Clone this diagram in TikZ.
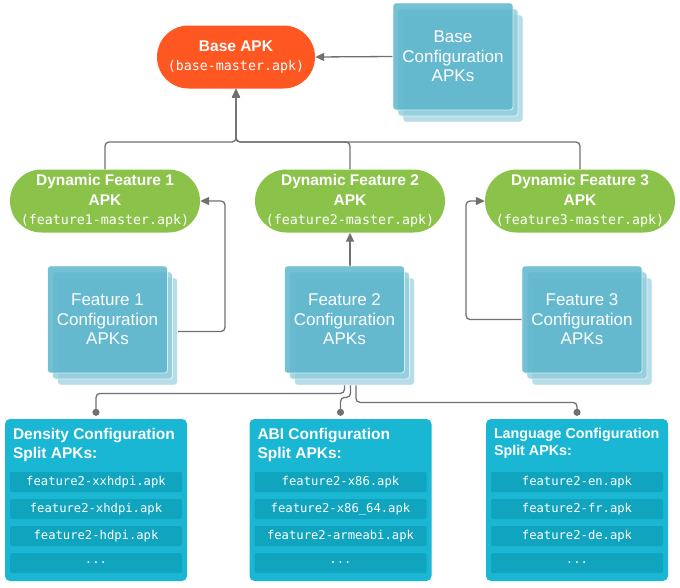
\documentclass[tikz,border=0pt]{standalone}
\usepackage{fontspec}
\setmainfont{Liberation Sans}
\setmonofont{DejaVu Sans Mono}
\usetikzlibrary{positioning,arrows.meta,calc}

\definecolor{baseorange}{HTML}{FF5722}
\definecolor{featgreen}{HTML}{8BC34A}
\definecolor{cardfront}{HTML}{5DB6CD}
\definecolor{cardmid}{HTML}{8ECCDB}
\definecolor{cardback}{HTML}{B7DDE7}
\definecolor{splitcyan}{HTML}{19B7D3}
\definecolor{rowcyan}{HTML}{10A4BE}
\definecolor{linegray}{HTML}{707070}

\pgfdeclarelayer{background}
\pgfsetlayers{background,main}

\begin{document}
\begin{tikzpicture}[x=1pt,y=-1pt,
  link/.style={draw=linegray,line width=1.3pt,rounded corners=4pt,-{Triangle[length=9pt,width=8pt]}},
  pin/.style={draw=linegray,line width=1.3pt,rounded corners=4pt,-{Circle[length=7pt]}},
  apk/.style={fill=#1,text=white,rounded corners=31.5pt,minimum height=63pt,align=center,inner sep=0pt,
    font=\fontsize{15.5}{19.5}\selectfont},
  card/.style={draw=white,draw opacity=0.7,line width=0.8pt,rounded corners=3pt,
    minimum width=120pt,minimum height=107pt,inner sep=0pt},
  split/.style={fill=splitcyan,rounded corners=5pt,minimum width=182pt,minimum height=162pt,inner sep=0pt},
  splittitle/.style={text=white,align=left,anchor=north west,inner sep=0pt,font=\bfseries\fontsize{15.5}{19}\selectfont},
  row/.style={fill=rowcyan,rounded corners=2pt,minimum width=172pt,minimum height=20pt,inner sep=0pt,
    text=white,font=\ttfamily\fontsize{12.2}{13}\selectfont}
]
\useasboundingbox (0,0) rectangle (680,587);

% apks
\node[apk=baseorange,minimum width=158pt] (base) at (236,57)
  {{\bfseries Base APK}\\{\ttfamily\fontsize{13.3}{19.5}\selectfont (base-master.apk)}};
\node[apk=featgreen,minimum width=190pt] (df1) at (105,201)
  {{\bfseries Dynamic Feature 1}\\{\bfseries APK}\\{\ttfamily\fontsize{13.3}{19.5}\selectfont (feature1-master.apk)}};
\node[apk=featgreen,minimum width=190pt] (df2) at (350,201)
  {{\bfseries Dynamic Feature 2}\\{\bfseries APK}\\{\ttfamily\fontsize{13.3}{19.5}\selectfont (feature2-master.apk)}};
\node[apk=featgreen,minimum width=190pt] (df3) at (580,201)
  {{\bfseries Dynamic Feature 3}\\{\bfseries APK}\\{\ttfamily\fontsize{13.3}{19.5}\selectfont (feature3-master.apk)}};

% configuration stacks
\foreach \n/\x/\y in {bcfg/453/56.5, f1cfg/107.5/319.5, f2cfg/344.5/319.5, f3cfg/582/319.5} {
  \node[card,fill=cardback] (\n3) at (\x+10,\y+12) {};
  \node[card,fill=cardmid,fill opacity=0.8] (\n2) at (\x+5,\y+6) {};
}
\tikzset{front/.style={card,fill=cardfront,fill opacity=0.85,text opacity=1,text=white,align=center,
  font=\fontsize{17}{19.5}\selectfont}}
\node[front] (bcfg) at (453,56.5) {Base\\Configuration\\APKs};
\node[front] (f1cfg) at (107.5,319.5) {Feature 1\\Configuration\\APKs};
\node[front] (f2cfg) at (344.5,319.5) {Feature 2\\Configuration\\APKs};
\node[front] (f3cfg) at (582,319.5) {Feature 3\\Configuration\\APKs};

% split apks
\node[split] (dens) at (96,500) {};
\node[split] (abi) at (340.5,500) {};
\node[split] (lang) at (577,500) {};
\node[splittitle] (denstitle) at ([shift={(8pt,-9pt)}]dens.north west) {Density Configuration\\Split APKs:};
\node[splittitle] (abititle) at ([shift={(8pt,-9pt)}]abi.north west) {ABI Configuration\\Split APKs:};
\node[splittitle,font=\bfseries\fontsize{14.3}{17}\selectfont] (langtitle) at ([shift={(8pt,-9pt)}]lang.north west)
  {Language Configuration\\Split APKs:};

\node[row] (dens1) at (96,482) {feature2-xxhdpi.apk};
\node[row] (dens2) at (96,509) {feature2-xhdpi.apk};
\node[row] (dens3) at (96,536) {feature2-hdpi.apk};
\node[row] (dens4) at (96,563) {...};
\node[row] (abi1) at (340.5,482) {feature2-x86.apk};
\node[row] (abi2) at (340.5,509) {feature2-x86\_64.apk};
\node[row] (abi3) at (340.5,536) {feature2-armeabi.apk};
\node[row] (abi4) at (340.5,563) {...};
\node[row] (lang1) at (577,482) {feature2-en.apk};
\node[row] (lang2) at (577,509) {feature2-fr.apk};
\node[row] (lang3) at (577,536) {feature2-de.apk};
\node[row] (lang4) at (577,563) {...};

% connectors
\coordinate (hub) at (236,142);
\coordinate (f1bend) at (225,201);
\coordinate (f3bend) at (466,201);
\begin{pgfonlayer}{background}
\draw[link] (df1.north) |- (hub) -- (base.south);
\draw[link] (df2.north) |- (hub) -- (base.south);
\draw[link] (df3.north) |- (hub) -- (base.south);
\draw[link] (bcfg.west) -- (base.east);
\draw[link] (f1cfg3.east) -| (f1bend) -- (df1.east);
\draw[link] (f3cfg.west) -| (f3bend) -- (df3.west);
\draw[link] (f2cfg.north -| df2.south) -- (df2.south);
\draw[pin] (f2cfg.south) -- ++(0,20) -| ([yshift=3pt]dens.north);
\draw[pin] ([xshift=6pt]f2cfg.south) -- ++(0,24) -| ([yshift=3pt]abi.north);
\draw[pin] ([xshift=11.5pt]f2cfg.south) -- ++(0,29) -| ([yshift=3pt]lang.north);
\end{pgfonlayer}
\end{tikzpicture}
\end{document}
